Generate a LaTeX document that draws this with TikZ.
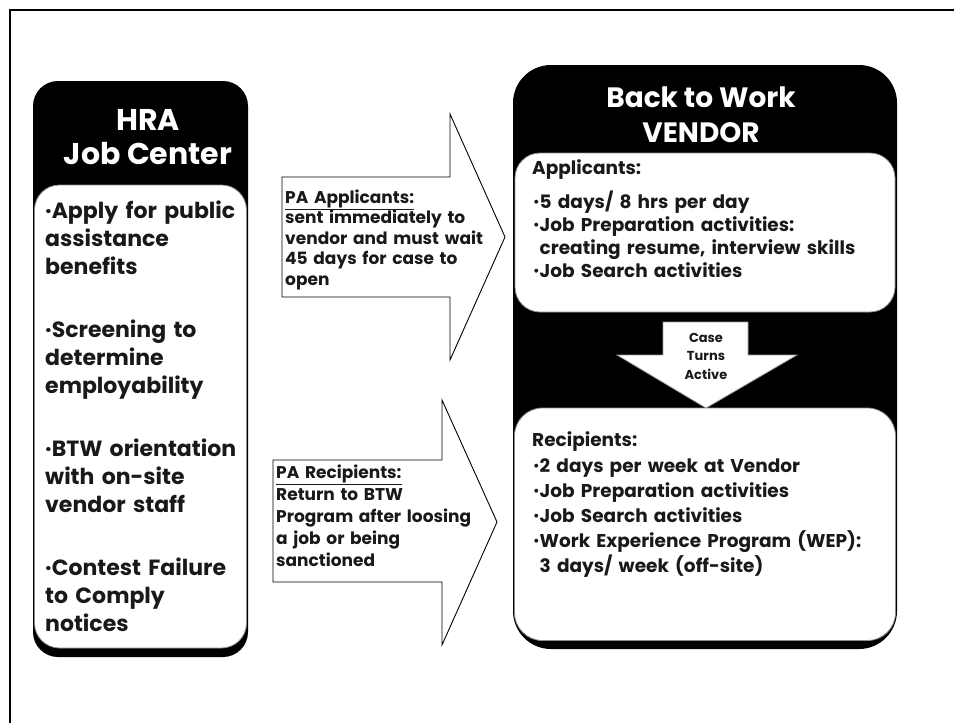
\documentclass[tikz,border=0pt]{standalone}
\usepackage{fontspec}
\setmainfont{Poppins}
% small bullet for the HRA list, rounder bullet for the vendor lists
\newcommand\bul{·}
\newcommand\rbul{\raisebox{0.12ex}{\fontsize{13}{13}\selectfont •}}
\begin{document}
\begin{tikzpicture}[x=1pt,y=-1pt,
  panel/.style={fill=black,rounded corners=#1},
  card/.style={fill=white,draw=black!45,line width=0.8pt,rounded corners=#1},
  blockarrow/.style={fill=white,draw=black,line width=0.9pt,line join=miter},
  downarrow/.style={fill=white,draw=black!40,line width=0.8pt,line join=miter},
  titletext/.style={text=white,font=\fontsize{#1}{33}\selectfont\bfseries,inner sep=0pt,anchor=base},
  leftbody/.style={font=\fontsize{22}{28}\selectfont\bfseries,text=black!90,inner sep=0pt,anchor=base west,align=left,text width=205pt},
  arrowtext/.style={font=\fontsize{17}{#1}\selectfont\bfseries,text=black!90,inner sep=0pt,anchor=base west,align=left,text width=230pt},
  heading/.style={font=\fontsize{18.5}{24}\selectfont\bfseries,text=black!90,inner sep=0pt,anchor=base west},
  rightbody/.style={font=\fontsize{18.5}{#1}\selectfont\bfseries,text=black!90,inner sep=0pt,anchor=base west,align=left,text width=360pt},
  smalltext/.style={font=\fontsize{13}{18}\selectfont\bfseries,text=black!90,inner sep=0pt,anchor=base,align=center}
]
\useasboundingbox (0,0) rectangle (954,723);
\fill[white] (0,0) rectangle (954,723);

% outer frame
\draw[line width=2pt] (10,723) -- (10,10) -- (954,10);

% HRA Job Center panel
\fill[panel=25pt] (33,81) rectangle (248,657);
\draw[card=25pt] (34.5,185) rectangle (246.5,648);
\node[titletext=30] (hraA) at (148,130) {HRA};
\node[titletext=30] (hraB) at (148,164) {Job Center};
\node[leftbody] (hra1) at (45,218) {\bul Apply for public\\assistance\\benefits};
\node[leftbody] (hra2) at (45,337) {\bul Screening to\\determine\\employability};
\node[leftbody] (hra3) at (45,456) {\bul BTW orientation\\with on-site\\vendor staff};
\node[leftbody] (hra4) at (45,575) {\bul Contest Failure\\to Comply\\notices};

% Back to Work vendor panel
\fill[panel=38pt] (513,65) rectangle (897,649);
\node[titletext=28] (btwA) at (701,107) {Back to Work};
\node[titletext=28] (btwB) at (701,142) {VENDOR};
\draw[card=25pt] (515,153) rectangle (895,312);
\draw[card=28pt] (514.5,408) rectangle (895.5,640.5);

% applicants section
\node[heading] (appH) at (532,174) {Applicants:};
\node[rightbody=23] (appB) at (533,208) {\rbul 5 days/ 8 hrs per day\\
  \rbul Job Preparation activities:\\
  \phantom{\rbul}creating resume, interview skills\\
  \rbul Job Search activities};

% case turns active arrow
\draw[downarrow] (663,322) -- (748,322) -- (748,355) -- (797,355) -- (706,408)
  -- (617,355) -- (663,355) -- cycle;
\node[smalltext] (caseA) at (706,342) {Case};
\node[smalltext] (caseB) at (706,360) {Turns};
\node[smalltext] (caseC) at (706,379) {Active};

% recipients section
\node[heading] (recH) at (532,446) {Recipients:};
\node[rightbody=25] (recB) at (533,472) {\rbul 2 days per week at Vendor\\
  \rbul Job Preparation activities\\
  \rbul Job Search activities\\
  \rbul Work Experience Program (WEP):\\
  \phantom{\rbul}3 days/ week (off-site)};

% block arrows between the panels
\draw[blockarrow] (282,177) -- (450,177) -- (450,114) -- (505,237) -- (450,360)
  -- (450,297) -- (282,297) -- cycle;
\node[arrowtext=20.5] (paApp) at (285,203) {\underline{PA Applicants:}\\
  sent immediately to\\vendor and must wait\\45 days for case to\\open};

\draw[blockarrow] (273,460) -- (442,460) -- (442,400) -- (497,522) -- (442,645)
  -- (442,582) -- (273,582) -- cycle;
\node[arrowtext=22] (paRec) at (276,478) {\underline{PA Recipients:}\\
  Return to BTW\\Program after loosing\\a job or being\\sanctioned};
\end{tikzpicture}
\end{document}
